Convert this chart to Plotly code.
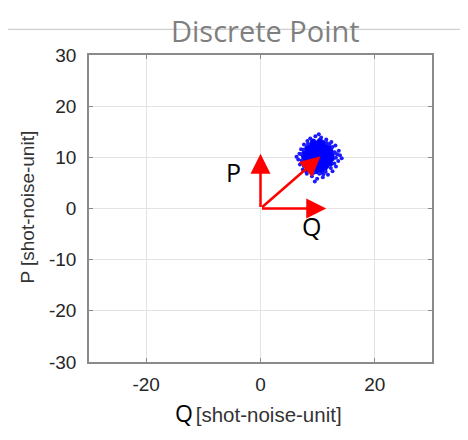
import plotly.graph_objects as go

# Discrete point cloud (shot-noise-unit), centred near (10, 10)
cloud_q = [
    9.2, 10.1, 10.9,
    8.6, 9.4, 10.0, 10.7, 11.3,
    8.2, 8.9, 9.5, 10.2, 10.8, 11.5, 12.0,
    7.9, 8.5, 9.1, 9.8, 10.4, 11.0, 11.7, 12.2,
    7.7, 8.3, 8.9, 9.5, 10.1, 10.7, 11.3, 11.9, 12.5,
    7.6, 8.2, 8.8, 9.4, 10.0, 10.6, 11.2, 11.8, 12.4,
    7.7, 8.3, 8.9, 9.5, 10.1, 10.7, 11.3, 11.9, 12.5,
    7.9, 8.5, 9.1, 9.7, 10.3, 10.9, 11.5, 12.1,
    8.1, 8.7, 9.3, 9.9, 10.5, 11.1, 11.7, 12.2,
    8.5, 9.1, 9.7, 10.3, 10.9, 11.5,
    8.9, 9.5, 10.1, 10.7, 11.2,
    9.4, 10.0, 10.6,
    9.2, 10.4, 11.6, 12.6, 13.0, 13.2, 12.9, 12.3, 11.4, 10.3, 9.3, 8.4, 7.6,
    7.2, 7.1, 7.5, 8.3, 12.1, 13.4, 8.0, 11.0,
    8.7, 9.6, 10.6, 11.5, 12.4, 13.1, 13.7, 13.9, 13.6, 13.2, 12.6, 11.8, 10.9,
    9.9, 9.0, 8.1, 7.4, 6.9, 6.6, 6.8, 7.1, 7.6, 8.2, 6.3, 14.2, 10.2, 9.5,
]
cloud_p = [
    12.8, 12.8, 12.8,
    12.3, 12.3, 12.3, 12.3, 12.3,
    11.8, 11.8, 11.8, 11.8, 11.8, 11.8, 11.8,
    11.3, 11.3, 11.3, 11.3, 11.3, 11.3, 11.3, 11.3,
    10.8, 10.8, 10.8, 10.8, 10.8, 10.8, 10.8, 10.8, 10.8,
    10.3, 10.3, 10.3, 10.3, 10.3, 10.3, 10.3, 10.3, 10.3,
    9.8, 9.8, 9.8, 9.8, 9.8, 9.8, 9.8, 9.8, 9.8,
    9.3, 9.3, 9.3, 9.3, 9.3, 9.3, 9.3, 9.3,
    8.8, 8.8, 8.8, 8.8, 8.8, 8.8, 8.8, 8.8,
    8.3, 8.3, 8.3, 8.3, 8.3, 8.3,
    7.8, 7.8, 7.8, 7.8, 7.8,
    7.3, 7.3, 7.3,
    13.1, 13.2, 12.8, 12.0, 11.0, 9.9, 8.8, 7.9, 7.2, 6.8, 7.0, 7.5, 8.3,
    9.4, 10.6, 11.5, 12.6, 12.6, 10.6, 7.2, 6.7,
    13.7, 14.1, 13.9, 13.5, 13.0, 12.3, 11.3, 10.4, 9.3, 8.2, 7.3, 6.6, 6.1,
    5.8, 6.3, 6.8, 7.6, 8.6, 9.6, 10.7, 11.6, 12.5, 13.2, 10.1, 9.8, 14.5, 5.3,
]
# the first 82 points form the dense core, the rest the sparse halo
n_core = 82

# Arrow tips (from origin)
arrow_tip_q = [0.0, 11.5, 10.5]
arrow_tip_p = [10.7, 0.0, 10.2]

# Vector labels
label_text = ["P", "Q"]
label_q = [-4.8, 9.0]
label_p = [7.1, -3.5]

x_ticks = [-20, 0, 20]
x_tick_text = ["-20", "0", "20"]
y_ticks = [-30, -20, -10, 0, 10, 20, 30]
y_tick_text = ["-30", "-20", "-10", "0", "10", "20", "30"]

fig = go.Figure()
fig.add_trace(go.Scatter(
    x=cloud_q[:n_core], y=cloud_p[:n_core], mode="markers",
    marker=dict(color="#0000ff", size=6, line=dict(width=0)),
    showlegend=False, hoverinfo="skip",
))
fig.add_trace(go.Scatter(
    x=cloud_q[n_core:], y=cloud_p[n_core:], mode="markers",
    marker=dict(color="#1a1aff", size=4, line=dict(width=0)),
    showlegend=False, hoverinfo="skip",
))

for tq, tp in zip(arrow_tip_q, arrow_tip_p):
    fig.add_annotation(
        x=tq, y=tp, ax=0, ay=0, xref="x", yref="y", axref="x", ayref="y",
        text="", showarrow=True, arrowhead=2, arrowsize=1.6, arrowwidth=2.5,
        arrowcolor="#ff0000", standoff=0, startstandoff=0,
    )

for t, lq, lp in zip(label_text, label_q, label_p):
    fig.add_annotation(
        x=lq, y=lp, xref="x", yref="y", text=t, showarrow=False,
        font=dict(family="Open Sans", size=25, color="#000000"),
    )

axis_common = dict(
    showgrid=True, gridcolor="#e3e3e3", gridwidth=1,
    zeroline=False, showline=True, linecolor="#8a8a8a", linewidth=1.5,
    mirror="ticks", ticks="inside", ticklen=4, tickcolor="#8a8a8a",
    tickfont=dict(family="Liberation Sans", size=19, color="#262626"),
)

fig.update_xaxes(range=[-30, 30], tickvals=x_ticks, ticktext=x_tick_text,
                 ticklabelstandoff=4, **axis_common)
fig.update_yaxes(range=[-30, 30], tickvals=y_ticks, ticktext=y_tick_text,
                 ticklabelstandoff=7, **axis_common)

# Title with horizontal rule behind it (page body has an 8px offset)
fig.add_shape(type="line", xref="paper", yref="paper",
              x0=-0.236, x1=1.105, y0=1.0837, y1=1.0837,
              line=dict(color="#c4c4c4", width=1), layer="below")
fig.add_annotation(
    x=0.516, y=1.081, xref="paper", yref="paper", text="Discrete Point",
    showarrow=False, xanchor="center", yanchor="middle",
    font=dict(family="Open Sans", size=29, color="#7f7f7f"),
)

# Axis titles
fig.add_annotation(
    x=0.494, y=-0.166, xref="paper", yref="paper",
    text="<span style='font-family:Open Sans;font-size:23px;color:#000000'>Q</span>"
         "<span style='font-size:11px'> </span>"
         "<span style='font-family:Liberation Sans;font-size:20.5px;color:#333333'>[shot-noise-unit]</span>",
    showarrow=False, xanchor="center", yanchor="middle",
)
fig.add_annotation(
    x=-0.178, y=0.506, xref="paper", yref="paper", text="P [shot-noise-unit]",
    showarrow=False, textangle=-90, xanchor="center", yanchor="middle",
    font=dict(family="Liberation Sans", size=19, color="#333333"),
)

fig.update_layout(
    width=460, height=432,
    margin=dict(l=81, r=36, t=47, b=78),
    paper_bgcolor="white", plot_bgcolor="white",
)

fig.write_html("out.html")
